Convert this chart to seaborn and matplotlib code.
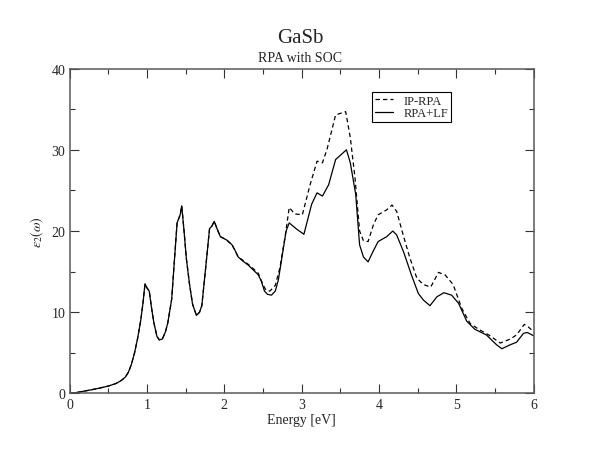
import matplotlib
matplotlib.use("Agg")
import matplotlib.pyplot as plt
from matplotlib.ticker import MultipleLocator
import numpy as np
import pandas as pd
import seaborn as sns

# both spectra coincide below ~2.2 eV
e_common = [0.0, 0.1, 0.2, 0.3, 0.4, 0.5, 0.6, 0.67, 0.72, 0.76, 0.8, 0.84,
            0.88, 0.92, 0.95, 0.975, 1.0, 1.03, 1.06, 1.09, 1.13, 1.16, 1.2,
            1.24, 1.27, 1.32, 1.36, 1.39, 1.43, 1.45, 1.48, 1.51, 1.55, 1.59,
            1.64, 1.68, 1.71, 1.76, 1.81, 1.84, 1.87, 1.91, 1.95, 2.03, 2.1,
            2.14, 2.18]
eps_common = [0.0, 0.12, 0.3, 0.48, 0.68, 0.9, 1.22, 1.6, 2.0, 2.6, 3.6, 5.0,
              6.8, 9.0, 11.2, 13.5, 13.0, 12.6, 10.5, 8.7, 7.0, 6.6, 6.7,
              7.6, 8.7, 11.6, 17.0, 21.0, 22.0, 23.1, 20.0, 16.6, 13.5, 11.0,
              9.6, 10.0, 10.8, 15.5, 20.3, 20.6, 21.2, 20.2, 19.3, 18.9, 18.3,
              17.6, 16.8]

e_ip = [2.24, 2.31, 2.44, 2.5, 2.54, 2.59, 2.66, 2.72, 2.79, 2.84, 2.91,
        3.01, 3.11, 3.2, 3.27, 3.33, 3.44, 3.57, 3.63, 3.69, 3.75, 3.8,
        3.86, 3.93, 3.99, 4.1, 4.17, 4.23, 4.32, 4.4, 4.49, 4.575, 4.67,
        4.77, 4.855, 4.96, 5.07, 5.18, 5.29, 5.42, 5.57, 5.7, 5.78, 5.88,
        5.93, 6.0]
eps_ip = [16.4, 15.9, 14.8, 13.4, 12.7, 12.6, 13.3, 15.5, 19.5, 22.9, 22.1,
          22.0, 25.7, 28.6, 28.4, 30.1, 34.3, 34.7, 31.5, 26.6, 20.0, 18.8,
          18.7, 20.8, 22.0, 22.6, 23.2, 22.4, 19.3, 16.7, 14.2, 13.4, 13.1,
          14.9, 14.6, 13.4, 10.5, 8.6, 7.9, 7.2, 6.2, 6.7, 7.2, 8.5,
          8.2, 7.6]

e_lf = [2.24, 2.31, 2.44, 2.48, 2.52, 2.56, 2.61, 2.66, 2.7, 2.75, 2.8,
        2.84, 2.94, 3.03, 3.13, 3.2, 3.27, 3.35, 3.44, 3.58, 3.63, 3.7,
        3.75, 3.8, 3.86, 3.93, 3.99, 4.1, 4.18, 4.23, 4.32, 4.42, 4.51,
        4.575, 4.66, 4.75, 4.84, 4.94, 5.03, 5.135, 5.24, 5.39, 5.52, 5.59,
        5.7, 5.78, 5.87, 5.92, 6.0]
eps_lf = [16.3, 15.8, 14.6, 13.8, 12.6, 12.2, 12.1, 12.6, 14.0, 17.0, 20.0,
          21.0, 20.2, 19.6, 23.3, 24.7, 24.3, 25.7, 28.8, 30.0, 28.4, 24.5,
          18.3, 16.8, 16.2, 17.6, 18.7, 19.3, 20.0, 19.5, 17.4, 14.6, 12.3,
          11.5, 10.8, 11.9, 12.4, 12.1, 11.1, 8.9, 7.9, 7.2, 6.0, 5.5,
          6.0, 6.3, 7.4, 7.5, 7.1]

labels = ["IP-RPA", "RPA+LF"]

df = pd.concat([
    pd.DataFrame({"energy": e_common + e_ip, "eps": eps_common + eps_ip,
                  "kind": labels[0]}),
    pd.DataFrame({"energy": e_common + e_lf, "eps": eps_common + eps_lf,
                  "kind": labels[1]}),
])

sns.set_style("ticks")
plt.rcParams["font.family"] = ["Liberation Serif", "DejaVu Serif"]
plt.rcParams["mathtext.fontset"] = "stix"

fig = plt.figure(figsize=(6, 4.64), dpi=100)
ax = fig.add_axes([0.116, 0.15, 0.7733, 0.70])

sns.lineplot(data=df, x="energy", y="eps", hue="kind", style="kind",
             palette=["black", "black"],
             dashes={"IP-RPA": (3.5, 2.5), "RPA+LF": ""},
             sort=False, estimator=None, linewidth=0.9, legend=False, ax=ax)

ax.set_xlim(0, 6)
ax.set_ylim(0, 40)
ax.xaxis.set_major_locator(MultipleLocator(1))
ax.xaxis.set_minor_locator(MultipleLocator(0.5))
ax.yaxis.set_major_locator(MultipleLocator(10))
ax.yaxis.set_minor_locator(MultipleLocator(5))
ax.tick_params(which="both", direction="in", top=True, right=True,
               labelsize=10, width=0.8, color="0.2", pad=3)
ax.tick_params(which="major", length=6.5)
ax.tick_params(which="minor", length=3.6)
for sp in ax.spines.values():
    sp.set_visible(True)
    sp.set_linewidth(1.1)
    sp.set_color("0.35")

ax.set_xlabel("Energy [eV]", fontsize=10, labelpad=2)
ax.set_ylabel(r"$\varepsilon_2(\omega)$", fontsize=10, labelpad=4)

ax.legend(ax.get_lines()[:2], labels, loc="upper left",
          bbox_to_anchor=(0.652, 0.927), frameon=True, fancybox=False,
          edgecolor="black", framealpha=1, fontsize=9, handlelength=1.5,
          borderpad=0.2, labelspacing=0.05, borderaxespad=0,
          handletextpad=0.8)
ax.get_legend().get_frame().set_linewidth(0.8)

fig.text(0.5, 0.907, "GaSb", ha="center", va="baseline", fontsize=15)
fig.text(0.5, 0.866, "RPA with SOC", ha="center", va="baseline", fontsize=10)

fig.savefig("out.png", dpi=100)
